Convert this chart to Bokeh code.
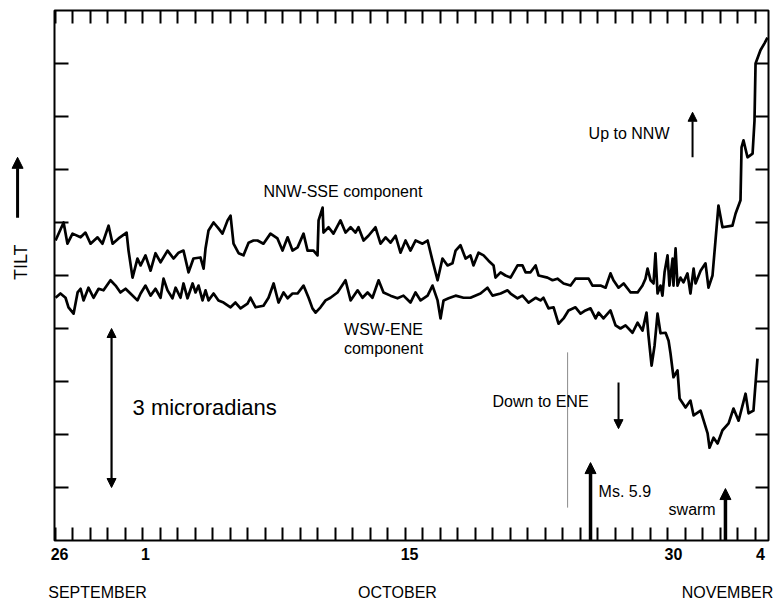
from math import pi
from bokeh.plotting import figure
from bokeh.layouts import column, row
from bokeh.models import (LinearAxis, FixedTicker, Range1d, Label, Arrow,
                          NormalHead, ColumnDataSource)
from bokeh.embed import file_html
from bokeh.resources import INLINE

FONT = "Liberation Sans"

# ---- data: days since 26 September, tilt in microradians (relative) ----
nnw_sse = [
    (0.03, 5.66), (0.49, 6.00), (0.71, 5.60), (1.00, 5.79), (1.46, 5.72), (1.74, 5.81),
    (2.03, 5.60), (2.43, 5.72), (2.71, 5.60), (3.06, 5.94), (3.29, 5.60), (3.63, 5.70),
    (4.09, 5.81), (4.20, 5.47), (4.43, 4.96), (4.71, 5.32), (4.89, 5.19), (5.17, 5.38),
    (5.46, 5.09), (5.74, 5.42), (6.03, 5.25), (6.43, 5.47), (6.77, 5.32), (7.06, 5.43),
    (7.34, 5.47), (7.63, 5.06), (7.91, 5.32), (8.31, 5.34), (8.49, 5.13), (8.60, 5.51),
    (8.77, 5.85), (9.06, 6.00), (9.34, 5.89), (9.57, 5.79), (9.86, 6.04), (10.03, 6.13),
    (10.20, 5.60), (10.49, 5.42), (10.77, 5.38), (11.06, 5.62), (11.34, 5.66), (11.57, 5.66),
    (11.91, 5.60), (12.31, 5.79), (12.71, 5.70), (13.00, 5.47), (13.29, 5.72), (13.57, 5.47),
    (13.86, 5.53), (14.20, 5.79), (14.43, 5.47), (14.77, 5.47), (15.00, 5.38), (15.06, 6.04),
    (15.29, 6.28), (15.34, 5.81), (15.63, 5.91), (15.91, 5.79), (16.31, 6.04), (16.60, 5.81),
    (16.89, 5.91), (17.17, 5.81), (17.34, 5.91), (17.63, 5.66), (17.91, 5.75), (18.31, 5.91),
    (18.60, 5.60), (18.89, 5.72), (19.17, 5.62), (19.46, 5.75), (19.74, 5.43), (20.03, 5.66),
    (20.31, 5.47), (20.60, 5.66), (21.00, 5.60), (21.29, 5.66), (21.57, 5.28), (21.86, 4.91),
    (22.14, 5.32), (22.43, 5.19), (22.71, 5.23), (22.89, 5.47), (23.17, 5.57), (23.46, 5.32),
    (23.74, 5.38), (23.91, 5.19), (24.20, 5.43), (24.49, 5.38), (24.77, 5.28), (25.06, 5.19),
    (25.17, 4.96), (25.46, 5.06), (25.74, 5.00), (26.03, 4.96), (26.43, 5.19), (26.71, 5.19),
    (26.89, 5.06), (27.17, 5.06), (27.46, 5.19), (27.63, 5.00), (28.14, 4.96), (28.43, 4.91),
    (28.71, 4.94), (29.06, 4.85), (29.46, 4.81), (29.74, 4.94), (30.14, 4.94), (30.49, 4.94),
    (30.71, 4.81), (31.17, 4.81), (31.46, 4.77), (31.74, 5.04), (31.91, 4.91), (32.20, 4.77),
    (32.49, 4.85), (32.89, 4.68), (33.29, 4.68), (33.57, 4.81), (33.74, 4.94), (33.86, 5.13),
    (34.03, 4.91), (34.20, 4.85), (34.31, 5.42), (34.43, 4.66), (34.60, 4.81), (34.71, 4.62),
    (34.83, 5.06), (35.00, 5.38), (35.11, 4.81), (35.29, 5.32), (35.34, 4.81), (35.46, 5.51),
    (35.57, 4.81), (35.74, 4.96), (35.91, 4.87), (36.14, 5.04), (36.31, 4.66), (36.49, 5.13),
    (36.60, 4.85), (36.89, 5.09), (37.17, 5.23), (37.34, 4.77), (37.57, 5.00), (37.74, 5.66),
    (37.91, 6.32), (38.14, 5.91), (38.71, 5.94), (38.89, 6.17), (39.17, 6.42), (39.23, 7.42),
    (39.34, 7.55), (39.57, 7.23), (39.86, 7.30), (39.97, 7.92), (40.03, 9.00), (40.31, 9.25),
    (40.54, 9.38), (40.71, 9.49),
]

wsw_ene = [
    (0.03, 4.58), (0.31, 4.66), (0.60, 4.58), (0.77, 4.40), (1.06, 4.28), (1.29, 4.68),
    (1.46, 4.75), (1.63, 4.53), (1.91, 4.77), (2.20, 4.58), (2.49, 4.75), (2.77, 4.72),
    (3.17, 4.91), (3.46, 4.81), (3.74, 4.68), (4.03, 4.75), (4.31, 4.66), (4.71, 4.53),
    (4.89, 4.66), (5.17, 4.81), (5.46, 4.62), (5.74, 4.75), (6.03, 4.58), (6.20, 4.94),
    (6.43, 4.72), (6.71, 4.57), (6.89, 4.77), (7.17, 4.58), (7.34, 4.85), (7.57, 4.57),
    (7.86, 4.85), (8.03, 4.68), (8.20, 4.81), (8.43, 4.53), (8.60, 4.72), (8.77, 4.53),
    (9.06, 4.66), (9.34, 4.53), (9.63, 4.49), (10.03, 4.40), (10.31, 4.49), (10.60, 4.38),
    (11.00, 4.47), (11.17, 4.58), (11.46, 4.40), (11.91, 4.43), (12.20, 4.58), (12.49, 4.85),
    (12.77, 4.49), (13.06, 4.68), (13.29, 4.57), (13.57, 4.66), (13.86, 4.66), (14.20, 4.81),
    (14.49, 4.58), (14.71, 4.38), (14.89, 4.30), (15.17, 4.40), (15.46, 4.53), (15.74, 4.58),
    (16.14, 4.68), (16.60, 4.91), (16.89, 4.53), (17.29, 4.72), (17.57, 4.58), (17.86, 4.68),
    (18.14, 4.58), (18.49, 4.91), (18.77, 4.68), (19.17, 4.62), (19.57, 4.57), (19.91, 4.62),
    (20.31, 4.49), (20.60, 4.68), (20.89, 4.53), (21.29, 4.62), (21.57, 4.81), (21.86, 4.53),
    (22.03, 4.19), (22.20, 4.53), (22.49, 4.57), (22.89, 4.62), (23.34, 4.58), (23.74, 4.58),
    (24.31, 4.66), (24.71, 4.77), (25.00, 4.62), (25.46, 4.66), (25.86, 4.72), (26.03, 4.66),
    (26.43, 4.57), (26.71, 4.62), (27.06, 4.49), (27.46, 4.58), (27.74, 4.53), (27.91, 4.58),
    (28.20, 4.38), (28.49, 4.40), (28.77, 4.09), (29.06, 4.19), (29.34, 4.34), (29.74, 4.40),
    (30.03, 4.28), (30.31, 4.34), (30.60, 4.38), (30.89, 4.19), (31.06, 4.30), (31.34, 4.19),
    (31.74, 4.34), (32.03, 4.06), (32.31, 4.00), (32.60, 4.06), (33.00, 3.92), (33.29, 4.11),
    (33.57, 3.96), (33.80, 4.30), (33.91, 3.87), (34.09, 3.30), (34.26, 3.68), (34.43, 4.28),
    (34.60, 3.91), (34.89, 3.92), (35.06, 3.77), (35.17, 3.53), (35.34, 3.08), (35.57, 3.21),
    (35.69, 2.68), (36.03, 2.51), (36.31, 2.64), (36.49, 2.36), (36.89, 2.45), (37.29, 2.02),
    (37.40, 1.75), (37.63, 1.94), (37.86, 1.83), (38.14, 2.08), (38.49, 2.21), (38.77, 2.49),
    (39.06, 2.26), (39.46, 2.77), (39.63, 2.40), (39.91, 2.45), (40.14, 3.43),
]

day_ticks = list(range(0, 41))                 # one tick per day
date_label_pos = [0.26, 5.17, 20.26, 35.34, 40.31]
date_labels = ["26", "1", "15", "30", "4"]
month_label_pos = [2.43, 19.57, 38.43]
month_labels = ["SEPTEMBER", "OCTOBER", "NOVEMBER"]
tilt_ticks = list(range(1, 10))                # 1 microradian per tick

X_RANGE = (-0.03, 40.77)
Y_RANGE = (0, 10)
PX_DAY = 17.5        # pixels per day
PX_UNIT = 53.0       # pixels per microradian


def no_grid(fig):
    fig.xgrid.grid_line_color = None
    fig.ygrid.grid_line_color = None
    fig.background_fill_color = "white"
    fig.border_fill_color = "white"


# ---- main plot ----
p = figure(frame_width=714, frame_height=530,
           x_range=Range1d(*X_RANGE), y_range=Range1d(*Y_RANGE),
           x_axis_location=None, y_axis_location=None,
           output_backend="svg", toolbar_location=None,
           min_border_left=2, min_border_right=6, min_border_top=10,
           min_border_bottom=2)
no_grid(p)
p.outline_line_color = "black"
p.outline_line_width = 2


def tick_axis(ticks, tick_len):
    return LinearAxis(ticker=FixedTicker(ticks=[], minor_ticks=ticks),
                      minor_tick_in=tick_len, minor_tick_out=0,
                      minor_tick_line_width=2, minor_tick_line_color="black",
                      major_tick_line_color=None, axis_line_color=None,
                      major_label_standoff=0)


p.add_layout(tick_axis(day_ticks, 13), "above")
p.add_layout(tick_axis(day_ticks, 13), "below")
p.add_layout(tick_axis(tilt_ticks, 14), "left")
p.add_layout(tick_axis(tilt_ticks, 13), "right")

for series in (nnw_sse, wsw_ene):
    d, v = zip(*series)
    src = ColumnDataSource(dict(day=list(d), tilt=list(v)))
    p.line("day", "tilt", source=src, line_color="black", line_width=2.7,
           line_join="round")

# thin event marker line
p.segment(x0=[29.29], y0=[0.62], x1=[29.29], y1=[3.55],
          line_color="#8c8c8c", line_width=1)


def txt(fig, x, y, s, size="16px", align="left", angle=0.0,
        baseline="alphabetic", style="normal"):
    fig.add_layout(Label(x=x, y=y, text=s, text_font=FONT, text_font_size=size,
                         text_align=align, text_baseline=baseline, angle=angle,
                         text_font_style=style, text_color="black"))


def arrow(fig, x, y0, y1, width, head, both=False):
    mk = lambda: NormalHead(size=head, fill_color="black", line_color="black")
    fig.add_layout(Arrow(x_start=x, y_start=y0, x_end=x, y_end=y1,
                         start=mk() if both else None, end=mk(),
                         line_color="black", line_width=width))


txt(p, 11.91, 6.59, "NNW-SSE component")
txt(p, 18.77, 3.98, "WSW-ENE", align="center")
txt(p, 18.77, 3.62, "component", align="center")
txt(p, 30.49, 7.68, "Up to NNW")
txt(p, 25.0, 2.63, "Down  to ENE")
txt(p, 4.43, 2.51, "3 microradians", size="22px")
txt(p, 31.06, 0.92, "Ms. 5.9")
txt(p, 35.06, 0.58, "swarm")

arrow(p, 3.23, 1.0, 4.0, 2.2, 9, both=True)  # 3 microradians scale
arrow(p, 36.43, 7.23, 8.08, 2, 9)            # Up to NNW
arrow(p, 32.2, 2.98, 2.11, 2, 9)             # Down to ENE
arrow(p, 30.6, 0.0, 1.47, 3.5, 11)           # Ms. 5.9
arrow(p, 38.31, 0.0, 0.98, 3.5, 11)          # swarm

# ---- left strip (same scales): TILT label and arrow ----
left_w = 52
side = figure(frame_width=left_w, frame_height=530,
              x_range=Range1d(X_RANGE[0] - (2 + left_w) / PX_DAY, X_RANGE[0] - 2 / PX_DAY),
              y_range=Range1d(*Y_RANGE),
              x_axis_location=None, y_axis_location=None,
              output_backend="svg", toolbar_location=None,
              min_border_left=0, min_border_right=0, min_border_top=10,
              min_border_bottom=2)
no_grid(side)
side.outline_line_color = None
txt(side, -1.94, 5.25, "TILT", size="18px", align="center", angle=pi / 2,
    baseline="middle")
arrow(side, -2.14, 6.09, 7.23, 3, 11)

# ---- bottom strip (same x scale): dates and months ----
bot_h = 58
full_w = left_w + 2 + 714 + 6
x0_full = X_RANGE[0] - (2 + left_w) / PX_DAY
bottom = figure(frame_width=full_w, frame_height=bot_h,
                x_range=Range1d(x0_full, x0_full + full_w / PX_DAY),
                y_range=Range1d(-(2 + bot_h) / PX_UNIT, -2 / PX_UNIT),
                x_axis_location=None, y_axis_location=None,
                output_backend="svg", toolbar_location=None,
                min_border_left=0, min_border_right=0, min_border_top=0,
                min_border_bottom=0)
no_grid(bottom)
bottom.outline_line_color = None
for pos, lab in zip(date_label_pos, date_labels):
    txt(bottom, pos, -0.264, lab, align="center", style="bold")
for pos, lab in zip(month_label_pos, month_labels):
    txt(bottom, pos, -0.981, lab, align="center")

layout = column(row(side, p, spacing=0), bottom, spacing=0)
open("out.html", "w").write(file_html(layout, INLINE))
